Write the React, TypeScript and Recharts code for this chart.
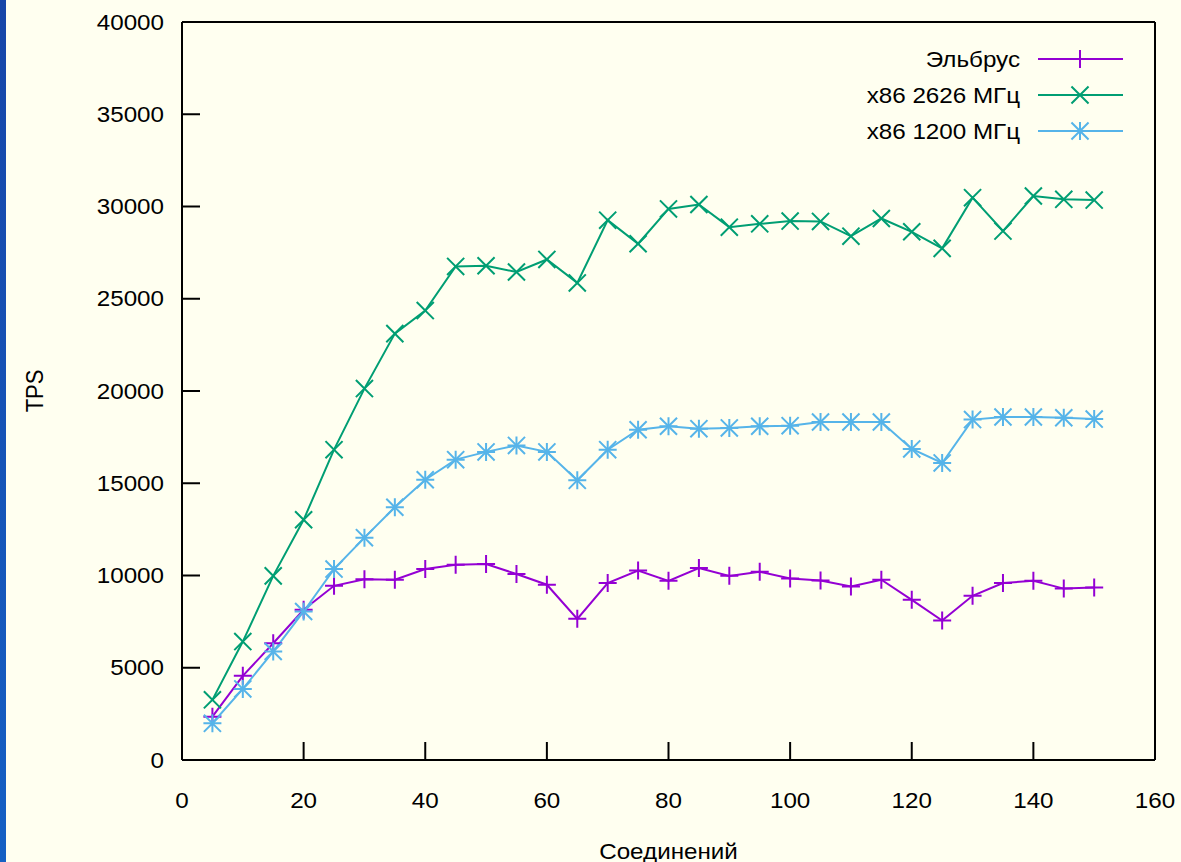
import React from 'react';
import { LineChart, Line, XAxis, YAxis, Legend } from 'recharts';

// connections (x) and TPS readings per machine
const connections = [5, 10, 15, 20, 25, 30, 35, 40, 45, 50, 55, 60, 65, 70, 75, 80, 85, 90, 95, 100, 105, 110, 115, 120, 125, 130, 135, 140, 145, 150];
const elbrusTps = [2350, 4560, 6330, 8140, 9440, 9800, 9770, 10350, 10580, 10620, 10080, 9500, 7650, 9590, 10270, 9710, 10400, 9980, 10200, 9840, 9730, 9400, 9770, 8680, 7560, 8900, 9590, 9710, 9290, 9350];
const x86FastTps = [3260, 6420, 9980, 13020, 16820, 20130, 23110, 24360, 26750, 26790, 26450, 27130, 25860, 29260, 27980, 29870, 30110, 28880, 29060, 29210, 29190, 28390, 29350, 28630, 27730, 30480, 28670, 30570, 30390, 30350];
const x86SlowTps = [1990, 3850, 5880, 8050, 10350, 12050, 13700, 15190, 16280, 16700, 17050, 16700, 15160, 16820, 17900, 18090, 17960, 18000, 18090, 18120, 18320, 18320, 18320, 16860, 16100, 18450, 18590, 18590, 18550, 18480];

const xTicks = [0, 20, 40, 60, 80, 100, 120, 140, 160];
const yTicks = [0, 5000, 10000, 15000, 20000, 25000, 30000, 35000, 40000];

const series = [
  { key: 'elbrus', name: 'Эльбрус', color: '#9400d3', marker: 'plus' },
  { key: 'fast', name: 'x86 2626 МГц', color: '#009e73', marker: 'cross' },
  { key: 'slow', name: 'x86 1200 МГц', color: '#56b4e9', marker: 'star' },
];

const data = connections.map((c, i) => ({
  conn: c,
  elbrus: elbrusTps[i],
  fast: x86FastTps[i],
  slow: x86SlowTps[i],
}));

const FONT = '"Liberation Sans", Arial, sans-serif';
const FONT_SIZE = 22;
const STRETCH = 1.1; // source picture is a bit wider than tall
const R = 9;

const SText = ({ x, y, anchor = 'start', rotate = false, children }: any) => (
  <g transform={`translate(${x},${y}) scale(${STRETCH},1)${rotate ? ' rotate(-90)' : ''}`}>
    <text x={0} y={0} textAnchor={anchor} dominantBaseline="central" fontFamily={FONT} fontSize={FONT_SIZE} fill="#000">
      {children}
    </text>
  </g>
);

const Marker = ({ cx, cy, kind, color }: any) => {
  if (cx == null || cy == null) return null;
  const r = R * 0.95;
  return (
    <g stroke={color} strokeWidth={2} fill="none">
      {kind !== 'cross' && <path d={`M${cx - R},${cy}H${cx + R}M${cx},${cy - R}V${cy + R}`} />}
      {kind !== 'plus' && <path d={`M${cx - r},${cy - r}L${cx + r},${cy + r}M${cx - r},${cy + r}L${cx + r},${cy - r}`} />}
    </g>
  );
};

const YTick = ({ x, y, payload }: any) => <SText x={x} y={y} anchor="end">{payload.value}</SText>;
const XTick = ({ x, y, payload }: any) => <SText x={x} y={y} anchor="middle">{payload.value}</SText>;

const YTitle = ({ viewBox }: any) => (
  <SText x={viewBox.x + 35} y={viewBox.y + viewBox.height / 2} anchor="middle" rotate>TPS</SText>
);
const XTitle = ({ viewBox }: any) => (
  <SText x={viewBox.x + viewBox.width / 2} y={viewBox.y + 91} anchor="middle">Соединений</SText>
);

const LegendBox = () => (
  <svg width={300} height={110} style={{ overflow: 'visible' }}>
    {series.map((s, i) => {
      const y = 19 + i * 36;
      return (
        <g key={s.key}>
          <SText x={190} y={y} anchor="end">{s.name}</SText>
          <line x1={208} x2={293} y1={y} y2={y} stroke={s.color} strokeWidth={2} />
          <Marker cx={250} cy={y} kind={s.marker} color={s.color} />
        </g>
      );
    })}
  </svg>
);

const axisLine = { stroke: '#000', strokeWidth: 2 };
const tickLine = { stroke: '#000', strokeWidth: 2 };

export default function App() {
  return (
    <div style={{ position: 'absolute', left: 0, top: 0, width: 1181, height: 862, background: '#fffff0', overflow: 'hidden' }}>
      <div
        style={{
          position: 'absolute', left: 0, top: 0, width: 6, height: 862,
          background: 'linear-gradient(#1746a8, #1560c4)',
        }}
      />
      <LineChart width={1181} height={862} data={data} margin={{ top: 0, right: 0, bottom: 0, left: 0 }}>
        <XAxis
          xAxisId="bottom" dataKey="conn" type="number" domain={[0, 160]} ticks={xTicks}
          orientation="bottom" height={102} axisLine={axisLine} tickLine={tickLine}
          tickSize={-18} tickMargin={58} tick={<XTick />} interval={0}
          label={<XTitle />}
        />
        <XAxis
          xAxisId="top" dataKey="conn" type="number" domain={[0, 160]} ticks={xTicks}
          orientation="top" height={22} axisLine={axisLine} tickLine={tickLine}
          tickSize={-18} tick={false} interval={0}
        />
        <YAxis
          yAxisId="left" type="number" domain={[0, 40000]} ticks={yTicks}
          orientation="left" width={182} axisLine={axisLine} tickLine={tickLine}
          tickSize={-18} tickMargin={36} tick={<YTick />} interval={0}
          label={<YTitle />}
        />
        <YAxis
          yAxisId="right" type="number" domain={[0, 40000]} ticks={yTicks}
          orientation="right" width={26} axisLine={axisLine} tickLine={tickLine}
          tickSize={-18} tick={false} interval={0}
        />
        <Legend
          layout="vertical" align="center" verticalAlign="middle"
          wrapperStyle={{ left: 830, top: 40, width: 300, height: 110 }}
          content={() => <LegendBox />}
        />
        {series.map((s) => (
          <Line
            key={s.key}
            xAxisId="bottom"
            yAxisId="left"
            type="linear"
            dataKey={s.key}
            name={s.name}
            stroke={s.color}
            strokeWidth={2}
            isAnimationActive={false}
            dot={(p: any) => <Marker key={`${s.key}-${p.index}`} cx={p.cx} cy={p.cy} kind={s.marker} color={s.color} />}
            activeDot={false}
          />
        ))}
      </LineChart>
    </div>
  );
}
